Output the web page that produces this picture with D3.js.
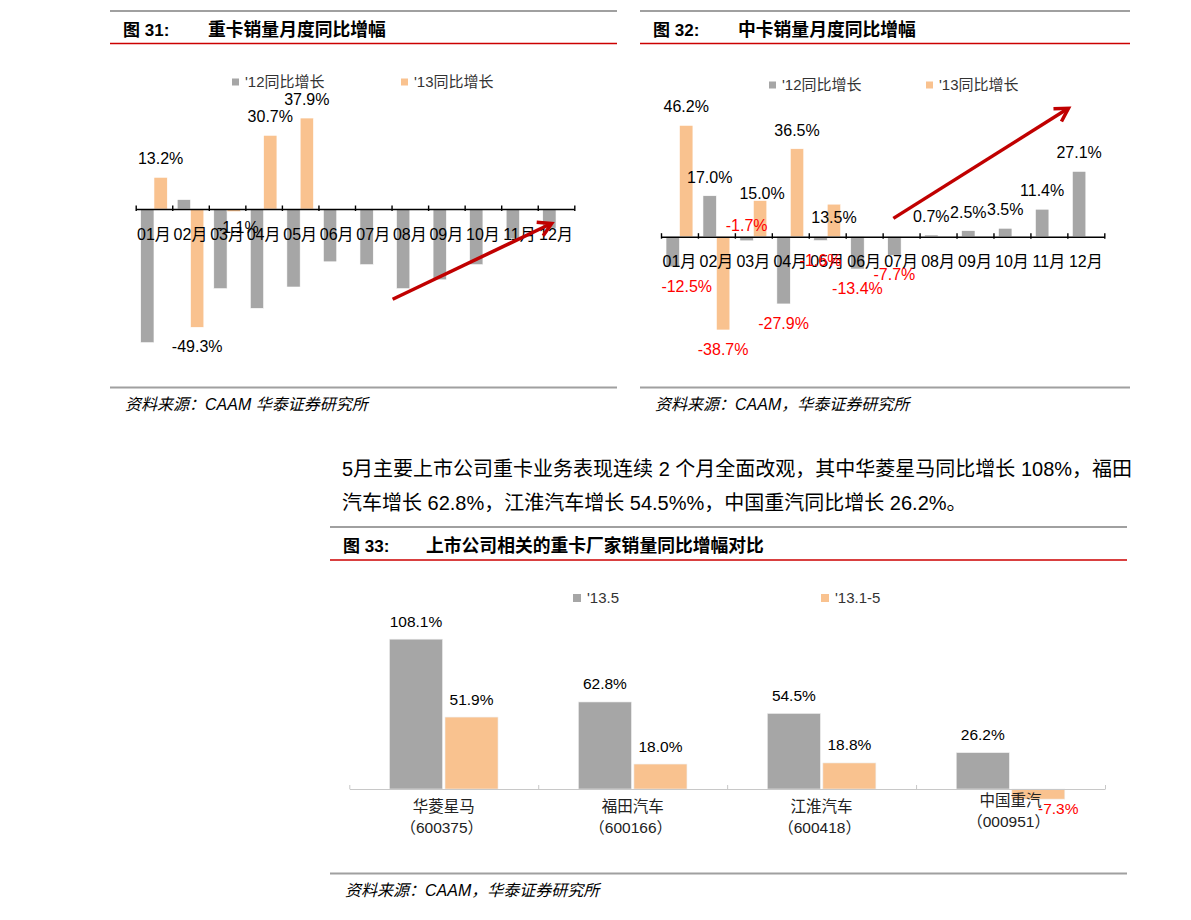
<!DOCTYPE html>
<html>
<head>
<meta charset="utf-8">
<script src="https://cdn.jsdelivr.net/npm/d3@7"></script>
<style>
  html, body { margin: 0; padding: 0; background: #fff; }
  svg { display: block; }
</style>
</head>
<body>
<svg id="page" width="1191" height="920"></svg>
<script>
// ---------------- DATA ----------------
const months = ['01月','02月','03月','04月','05月','06月','07月','08月','09月','10月','11月','12月'];

// 图31 重卡销量月度同比增幅 (%)
const heavyNames = ["'12同比增长", "'13同比增长"];
const heavy2012 = [-55.7, 3.9, -33.2, -41.4, -32.5, -22.0, -23.2, -33.2, -29.5, -23.2, -12.2, -8.0];
const heavy2013 = [13.2, -49.3, -1.1, 30.7, 37.9, null, null, null, null, null, null, null];

// 图32 中卡销量月度同比增幅 (%)
const mediumNames = ["'12同比增长", "'13同比增长"];
const medium2012 = [-12.5, 17.0, -1.7, -27.9, -1.6, -13.4, -7.7, 0.7, 2.5, 3.5, 11.4, 27.1];
const medium2013 = [46.2, -38.7, 15.0, 36.5, 13.5, null, null, null, null, null, null, null];

// 图33 上市公司相关的重卡厂家销量同比增幅对比 (%)
const companies = ['华菱星马', '福田汽车', '江淮汽车', '中国重汽'];
const companyCodes = ['（600375）', '（600166）', '（600418）', '（000951）'];
const makerNames = ["'13.5", "'13.1-5"];
const makerMay = [108.1, 62.8, 54.5, 26.2];
const makerJanMay = [51.9, 18.0, 18.8, -7.3];

// text
const titles = ['重卡销量月度同比增幅', '中卡销量月度同比增幅', '上市公司相关的重卡厂家销量同比增幅对比'];
const sources = ['资料来源：CAAM 华泰证券研究所', '资料来源：CAAM，华泰证券研究所', '资料来源：CAAM，华泰证券研究所'];
const paragraph = ['5月主要上市公司重卡业务表现连续 2 个月全面改观，其中华菱星马同比增长 108%，福田',
                   '汽车增长 62.8%，江淮汽车增长 54.5%%，中国重汽同比增长 26.2%。'];

// ---------------- STYLE ----------------
const GRAY = '#a6a6a6', ORANGE = '#f9c28f', RED = '#c00000', RULE = '#a0a0a0';
const FONT = '"Liberation Sans", Arial, "Noto Sans CJK SC", sans-serif';
const svg = d3.select('#page');
const pct = v => v.toFixed(1) + '%';

function header(x0, x1, topY, redY, num, title, titleX) {
  svg.append('line').attr('x1', x0).attr('x2', x1).attr('y1', topY).attr('y2', topY)
    .attr('stroke', RULE).attr('stroke-width', 2);
  svg.append('line').attr('x1', x0).attr('x2', x1).attr('y1', redY).attr('y2', redY)
    .attr('stroke', '#cc0000').attr('stroke-width', 1.5);
  svg.append('text').attr('x', x0 + 13).attr('y', redY - 8).text('图 ' + num + ':')
    .attr('font-family', FONT).attr('font-weight', 'bold').attr('font-size', 17).attr('fill', '#000');
  svg.append('text').attr('x', titleX).attr('y', redY - 8).text(title)
    .attr('font-family', '"Noto Sans CJK SC", sans-serif').attr('font-weight', 'bold')
    .attr('font-size', 17.8).attr('fill', '#000');
}
function footer(x0, x1, lineY, text, textX) {
  svg.append('line').attr('x1', x0).attr('x2', x1).attr('y1', lineY).attr('y2', lineY)
    .attr('stroke', RULE).attr('stroke-width', 2);
  svg.append('text').attr('x', textX).attr('y', lineY + 22.5).text(text)
    .attr('font-family', FONT).attr('font-style', 'italic').attr('font-size', 16).attr('fill', '#000');
}
function legend(items, y, size, fontSize) {
  items.forEach(it => {
    svg.append('rect').attr('x', it.x).attr('y', y - size / 2).attr('width', size).attr('height', size)
      .attr('fill', it.color);
    svg.append('text').attr('x', it.x + size + 6).attr('y', y + fontSize * 0.36).text(it.name)
      .attr('font-family', FONT).attr('font-size', fontSize).attr('fill', '#333');
  });
}
function arrow(g, p0, p1, width) {
  const ang = Math.atan2(p1[1] - p0[1], p1[0] - p0[0]);
  const L = 15, a = Math.PI / 6;
  g.append('line').attr('x1', p0[0]).attr('y1', p0[1]).attr('x2', p1[0] - 2 * Math.cos(ang)).attr('y2', p1[1] - 2 * Math.sin(ang))
    .attr('stroke', RED).attr('stroke-width', width);
  const pA = [p1[0] - L * Math.cos(ang - a), p1[1] - L * Math.sin(ang - a)];
  const pB = [p1[0] - L * Math.cos(ang + a), p1[1] - L * Math.sin(ang + a)];
  g.append('path').attr('d', `M${pA[0]},${pA[1]}L${p1[0]},${p1[1]}L${pB[0]},${pB[1]}`)
    .attr('fill', 'none').attr('stroke', RED).attr('stroke-width', width).attr('stroke-linejoin', 'miter');
}

// generic monthly chart
function monthlyChart(cfg) {
  const g = svg.append('g');
  const gBars = g.append('g'), gAxis = g.append('g'), gCats = g.append('g'), gLabels = g.append('g');
  const x = d3.scaleBand().domain(cfg.cats).range([cfg.x0, cfg.x1]).paddingInner(0).paddingOuter(0);
  const xs = d3.scaleBand().domain([0, 1]).range([0, x.bandwidth()]).paddingInner(0).paddingOuter(0.374);
  const xi = d3.scaleLinear().domain([0, cfg.cats.length]).range([cfg.x0, cfg.x1]);
  const y = d3.scaleLinear().domain([-60, 60]).range([cfg.axisY + 60 * cfg.px, cfg.axisY - 60 * cfg.px]);

  cfg.series.forEach((s, si) => {
    const rows = s.values.map((v, i) => ({ v, c: cfg.cats[i], i })).filter(d => d.v !== null);
    gBars.selectAll(null).data(rows).join('rect')
      .attr('x', d => x(d.c) + xs(si)).attr('width', xs.bandwidth())
      .attr('y', d => y(Math.max(0, d.v))).attr('height', d => Math.abs(y(d.v) - y(0)))
      .attr('fill', s.color).attr('stroke', '#fff').attr('stroke-width', 0.6);
    if (s.labeled) {
      gLabels.selectAll(null).data(rows).join('text')
        .attr('x', d => x(d.c) + xs(si) + xs.bandwidth() / 2 + ((cfg.nudge[si + '|' + d.i] || {}).dx || 0))
        .attr('y', d => (d.v >= 0 ? y(d.v) - 13 : y(d.v) + 25) + ((cfg.nudge[si + '|' + d.i] || {}).dy || 0))
        .attr('text-anchor', 'middle').attr('font-family', FONT).attr('font-size', 16)
        .attr('fill', d => d.v < 0 ? cfg.negColor : '#000')
        .text(d => pct(d.v));
    }
  });
  // axis
  const axis = d3.axisBottom(xi).tickValues(d3.range(0, cfg.cats.length + 1)).tickSize(0).tickFormat('');
  const ax = gAxis.append('g').attr('transform', `translate(0,${cfg.axisY})`).call(axis);
  ax.select('.domain').attr('stroke', '#000').attr('stroke-width', 1.6);
  ax.selectAll('.tick').append('line').attr('y1', -3.5).attr('y2', 2).attr('stroke', '#000').attr('stroke-width', 1.4);
  // category labels
  gCats.selectAll(null).data(cfg.cats).join('text')
    .attr('x', d => x(d) + x.bandwidth() / 2).attr('y', cfg.axisY + 30.5)
    .attr('text-anchor', 'middle').attr('font-family', FONT).attr('font-size', 16).attr('fill', '#000')
    .text(d => d);
  arrow(g, [xi(cfg.arrow[0][0]), y(cfg.arrow[0][1])], [xi(cfg.arrow[1][0]), y(cfg.arrow[1][1])], 3.5);
}

// ---------- 图31 ----------
header(110, 617, 11, 43.5, '31', titles[0], 208);
legend([{ x: 232, color: GRAY, name: heavyNames[0] }, { x: 401, color: ORANGE, name: heavyNames[1] }], 82, 7, 15);
monthlyChart({
  cats: months, x0: 135.7, x1: 574.3, axisY: 209, px: 2.4, negColor: '#000',
  series: [{ values: heavy2012, color: GRAY, labeled: false }, { values: heavy2013, color: ORANGE, labeled: true }],
  nudge: { '1|2': { dx: 4, dy: -4 } },
  arrow: [[7.03, -37.6], [11.38, -6.0]]
});
footer(110, 617, 387.5, sources[0], 125);

// ---------- 图32 ----------
header(640, 1130, 11, 43.5, '32', titles[1], 738);
legend([{ x: 769, color: GRAY, name: mediumNames[0] }, { x: 926, color: ORANGE, name: mediumNames[1] }], 85, 7, 15);
monthlyChart({
  cats: months, x0: 661, x1: 1104.3, axisY: 236.7, px: 2.41, negColor: '#ff0000',
  series: [{ values: medium2012, color: GRAY, labeled: true }, { values: medium2013, color: ORANGE, labeled: true }],
  nudge: { '0|0': { dx: 14 }, '0|2': { dy: -35 }, '1|2': { dx: 2, dy: 11 }, '1|4': { dy: 32 } },
  arrow: [[6.29, 7.6], [11.03, 53.3]]
});
footer(640, 1130, 387.5, sources[1], 655);

// ---------- paragraph ----------
paragraph.forEach((t, i) => {
  svg.append('text').attr('x', 342).attr('y', 476 + i * 34).text(t)
    .attr('font-family', FONT).attr('font-size', 20).attr('fill', '#000');
});

// ---------- 图33 ----------
header(330, 1127, 527, 560, '33', titles[2], 426);
legend([{ x: 573, color: GRAY, name: makerNames[0] }, { x: 821, color: ORANGE, name: makerNames[1] }], 598, 8, 15);
(function () {
  const g = svg.append('g');
  const gBars = g.append('g'), gAxis = g.append('g'), gCats = g.append('g'), gLabels = g.append('g');
  const axisY = 789, px = 1.386;
  const x = d3.scaleBand().domain(companies).range([349.3, 1105]).paddingInner(0).paddingOuter(0);
  const xs = d3.scaleBand().domain([0, 1]).range([0, x.bandwidth()]).paddingInner(0.045).paddingOuter(0.724);
  const xi = d3.scaleLinear().domain([0, companies.length]).range([349.3, 1105]);
  const y = d3.scaleLinear().domain([-20, 120]).range([axisY + 20 * px, axisY - 120 * px]);
  const series = [{ values: makerMay, color: GRAY }, { values: makerJanMay, color: ORANGE }];
  const nudge = { '1|3': { dx: 20 } };
  const catShift = { 3: -6 };
  series.forEach((s, si) => {
    const rows = s.values.map((v, i) => ({ v, c: companies[i], i }));
    gBars.selectAll(null).data(rows).join('rect')
      .attr('x', d => x(d.c) + xs(si)).attr('width', xs.bandwidth())
      .attr('y', d => y(Math.max(0, d.v))).attr('height', d => Math.abs(y(d.v) - y(0)))
      .attr('fill', s.color).attr('stroke', '#eee').attr('stroke-width', 0.6);
    gLabels.selectAll(null).data(rows).join('text')
      .attr('x', d => x(d.c) + xs(si) + xs.bandwidth() / 2 + ((nudge[si + '|' + d.i] || {}).dx || 0))
      .attr('y', d => d.v >= 0 ? y(d.v) - 12.5 : y(d.v) + 15)
      .attr('text-anchor', 'middle').attr('font-family', FONT).attr('font-size', 15.5)
      .attr('fill', d => d.v < 0 ? '#ff0000' : '#000')
      .text(d => pct(d.v));
  });
  const axis = d3.axisBottom(xi).tickValues(d3.range(0, companies.length + 1)).tickSize(0).tickFormat('');
  const ax = gAxis.append('g').attr('transform', `translate(0,${axisY})`).call(axis);
  ax.select('.domain').attr('stroke', '#c8c8c8').attr('stroke-width', 1);
  ax.selectAll('.tick').append('line').attr('y1', -4).attr('y2', 0).attr('stroke', '#c8c8c8');
  gCats.selectAll(null).data(companies).join('text')
    .attr('x', d => x(d) + x.bandwidth() / 2).attr('y', (d, i) => axisY + 23 + (catShift[i] || 0))
    .attr('text-anchor', 'middle').attr('font-family', FONT).attr('font-size', 15.5).attr('fill', '#222')
    .text(d => d);
  gCats.selectAll(null).data(companyCodes).join('text')
    .attr('x', (d, i) => x(companies[i]) + x.bandwidth() / 2 - 2).attr('y', (d, i) => axisY + 44 + (catShift[i] || 0))
    .attr('text-anchor', 'middle').attr('font-family', FONT).attr('font-size', 15.5).attr('fill', '#222')
    .text(d => d);
})();
footer(330, 1127, 873.5, sources[2], 345);
</script>
</body>
</html>
